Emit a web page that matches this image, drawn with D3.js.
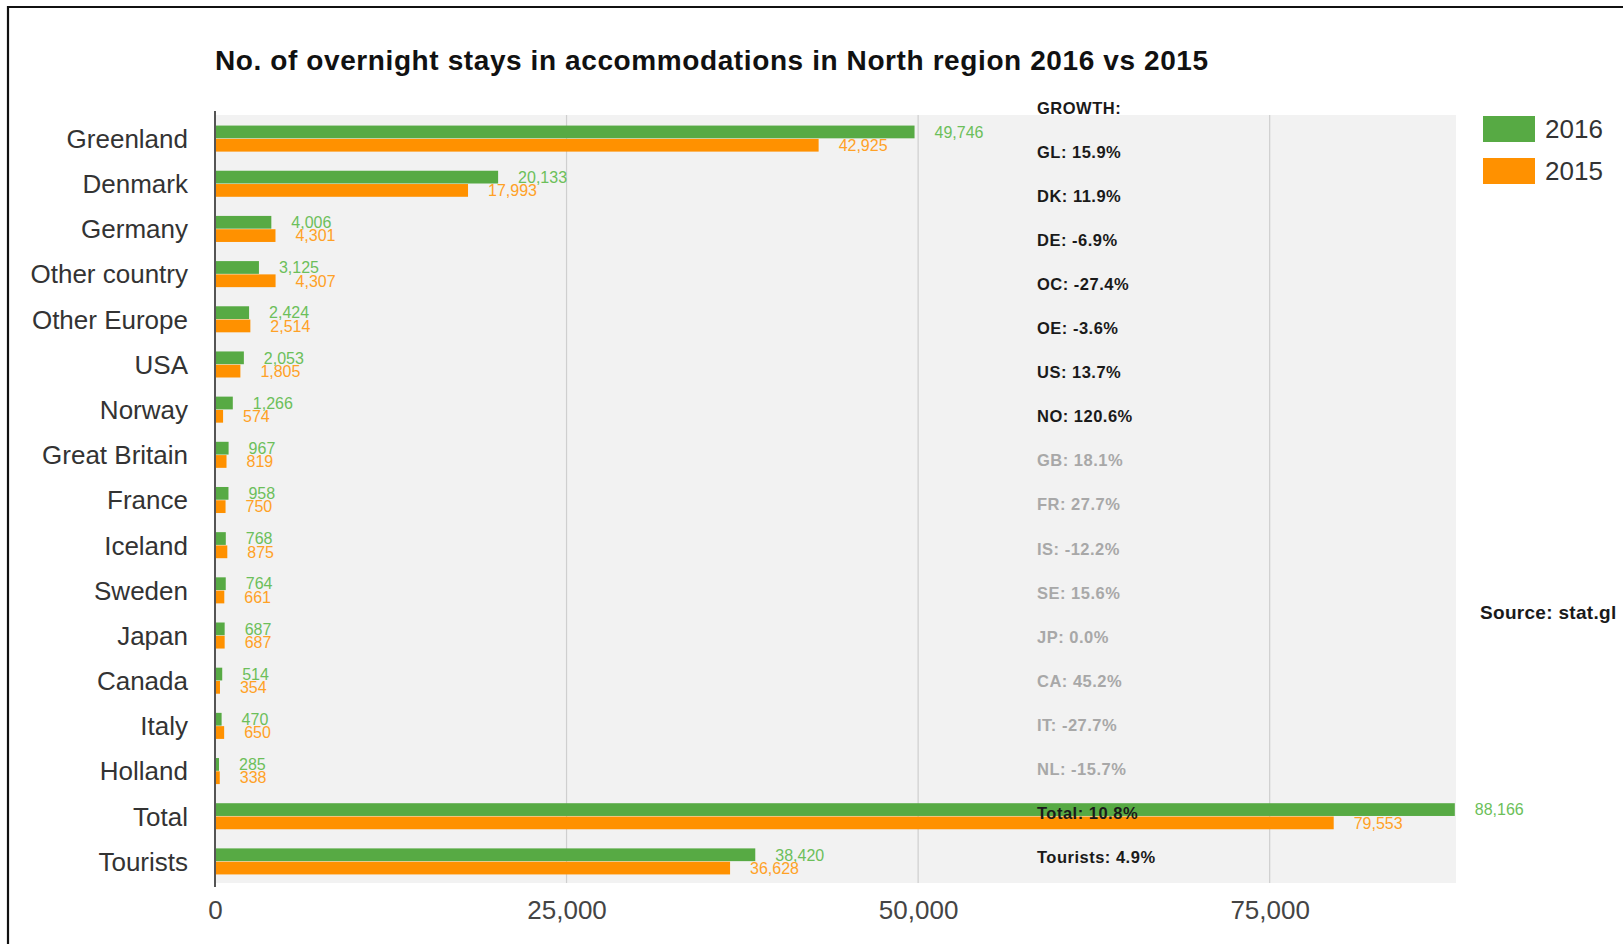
<!DOCTYPE html>
<html>
<head>
<meta charset="utf-8">
<script src="https://cdn.jsdelivr.net/npm/d3@7"></script>
<style>
  html, body { margin: 0; padding: 0; background: #fff; }
  svg { display: block; font-family: "Liberation Sans", Arial, Helvetica, sans-serif; }
</style>
</head>
<body>
<svg id="chart" width="1623" height="944"></svg>
<script>
// Overnight stays in accommodations, North region, by nationality
const categories = ["Greenland", "Denmark", "Germany", "Other country", "Other Europe", "USA",
  "Norway", "Great Britain", "France", "Iceland", "Sweden", "Japan", "Canada", "Italy",
  "Holland", "Total", "Tourists"];
const stays2016 = [49746, 20133, 4006, 3125, 2424, 2053, 1266, 967, 958, 768, 764, 687, 514, 470, 285, 88166, 38420];
const stays2015 = [42925, 17993, 4301, 4307, 2514, 1805, 574, 819, 750, 875, 661, 687, 354, 650, 338, 79553, 36628];
const seriesNames = ["2016", "2015"];
const xTicks = [0, 25000, 50000, 75000];

// Growth column text
const growthCodes = ["GL", "DK", "DE", "OC", "OE", "US", "NO", "GB", "FR", "IS", "SE", "JP", "CA", "IT", "NL", "Total", "Tourists"];
const growthValues = ["15.9%", "11.9%", "-6.9%", "-27.4%", "-3.6%", "13.7%", "120.6%", "18.1%", "27.7%",
  "-12.2%", "15.6%", "0.0%", "45.2%", "-27.7%", "-15.7%", "10.8%", "4.9%"];
const growthMuted = ["GB", "FR", "IS", "SE", "JP", "CA", "IT", "NL"];

const barColors = { "2016": "#57aa44", "2015": "#ff9100" };
const labelColors = { "2016": "#6cbf5a", "2015": "#ffa126" };

const svg = d3.select("#chart");

// Frame
svg.append("path")
  .attr("d", "M8,944 V7 H1623")
  .attr("fill", "none")
  .attr("stroke", "#111")
  .attr("stroke-width", 2.2);

const plot = { left: 215, right: 1456, top: 115, bottom: 883 };

const x = d3.scaleLinear().domain([0, 88250]).range([plot.left, plot.right]);
const y = d3.scaleBand().domain(categories).range([plot.top, plot.bottom])
  .paddingInner(0.4).paddingOuter(0.2);
const ySub = d3.scaleBand().domain(seriesNames).range([0, y.bandwidth()]).padding(0.04);

// Title
svg.append("text")
  .attr("x", 215).attr("y", 70)
  .attr("font-size", 28).attr("font-weight", "bold").attr("fill", "#111")
  .attr("letter-spacing", 0.6)
  .text("No. of overnight stays in accommodations in North region 2016 vs 2015");

// Plot background
svg.append("rect")
  .attr("x", plot.left).attr("y", plot.top)
  .attr("width", plot.right - plot.left).attr("height", plot.bottom - plot.top)
  .attr("fill", "#f2f2f2");

// Gridlines
svg.append("g")
  .selectAll("line")
  .data(xTicks.filter(d => d > 0))
  .join("line")
  .attr("x1", d => x(d)).attr("x2", d => x(d))
  .attr("y1", plot.top).attr("y2", plot.bottom)
  .attr("stroke", "#cfcfcf").attr("stroke-width", 1.2);

// X axis labels
const xAxis = d3.axisBottom(x).tickValues(xTicks).tickFormat(d3.format(",")).tickSize(0).tickPadding(18);
const gx = svg.append("g").attr("transform", `translate(0,${plot.bottom})`).call(xAxis);
gx.select(".domain").remove();
gx.selectAll("text").attr("font-size", 26).attr("fill", "#444")
  .attr("font-family", "'Liberation Sans', Arial, sans-serif");

// Y axis labels
const yAxis = d3.axisLeft(y).tickSize(0).tickPadding(27);
const gy = svg.append("g").attr("transform", `translate(${plot.left},2)`).call(yAxis);
gy.select(".domain").remove();
gy.selectAll("text").attr("font-size", 26).attr("fill", "#333")
  .attr("font-family", "'Liberation Sans', Arial, sans-serif");

// Bars
const rows = categories.map((c, i) => ({
  category: c,
  values: [
    { series: "2016", value: stays2016[i] },
    { series: "2015", value: stays2015[i] }
  ]
}));

const groups = svg.append("g").selectAll("g")
  .data(rows).join("g")
  .attr("transform", d => `translate(0,${y(d.category) + 1})`);

groups.selectAll("rect")
  .data(d => d.values).join("rect")
  .attr("x", x(0))
  .attr("y", d => ySub(d.series))
  .attr("width", d => x(d.value) - x(0))
  .attr("height", ySub.bandwidth())
  .attr("fill", d => barColors[d.series]);

groups.selectAll("text")
  .data(d => d.values).join("text")
  .attr("x", d => x(d.value) + 20)
  .attr("y", d => ySub(d.series) + ySub.bandwidth() / 2)
  .attr("dy", "0.36em")
  .attr("font-size", 16)
  .attr("fill", d => labelColors[d.series])
  .text(d => d3.format(",")(d.value));

// Zero axis line
svg.append("line")
  .attr("x1", plot.left).attr("x2", plot.left)
  .attr("y1", plot.top - 4).attr("y2", plot.bottom + 4)
  .attr("stroke", "#555").attr("stroke-width", 2);

// Growth column
const growthLines = ["GROWTH:"].concat(growthCodes.map((c, i) => `${c}: ${growthValues[i]}`));
const gyPos = d3.scalePoint().domain(d3.range(growthLines.length)).range([108, 857]);
svg.append("g").selectAll("text")
  .data(growthLines).join("text")
  .attr("x", 1037)
  .attr("y", (d, i) => gyPos(i))
  .attr("dy", "0.36em")
  .attr("font-size", 16.5)
  .attr("letter-spacing", 0.5)
  .attr("font-weight", "bold")
  .attr("fill", (d, i) => (i > 0 && growthMuted.includes(growthCodes[i - 1])) ? "#a8a8a8" : "#1a1a1a")
  .text(d => d);

// Legend
const legend = svg.append("g").attr("transform", "translate(1483,116)");
legend.selectAll("rect")
  .data(seriesNames).join("rect")
  .attr("x", 0).attr("y", (d, i) => i * 42)
  .attr("width", 52).attr("height", 26)
  .attr("fill", d => barColors[d]);
legend.selectAll("text")
  .data(seriesNames).join("text")
  .attr("x", 62).attr("y", (d, i) => i * 42 + 13)
  .attr("dy", "0.36em")
  .attr("font-size", 26).attr("fill", "#333")
  .text(d => d);

// Source note
svg.append("text")
  .attr("x", 1480).attr("y", 612).attr("dy", "0.36em")
  .attr("font-size", 19).attr("font-weight", "bold").attr("fill", "#1a1a1a")
  .attr("letter-spacing", 0.3)
  .text("Source: stat.gl");
</script>
</body>
</html>
